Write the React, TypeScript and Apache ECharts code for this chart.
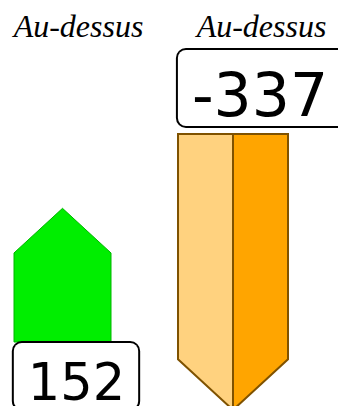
import React, { useEffect, useRef } from 'react';
import * as echarts from 'echarts';

// ---- data ----
const panelTitles = ['Au-dessus', 'Au-dessus'];
const categories = ['valeur'];
const leftValues = [152];
const rightValues = [-337];

// ---- styles / layout ----
const W = 338;
const H = 406;
const leftCfg = {
  offset: -13.5,
  halfWidth: 48.5,
  tipRatio: 0.92,
  split: false,
  fill: '#00ee00',
  light: '#00ee00',
  stroke: '#00b400',
  lineWidth: 1,
  fontSize: 51,
  padding: [14, 13, 1, 14],
  gap: 1,
  labelDx: 0,
};
const rightCfg = {
  offset: -27,
  halfWidth: 55,
  tipRatio: 0.92,
  split: true,
  fill: '#ffa500',
  light: '#ffd27f',
  stroke: '#7f5200',
  lineWidth: 2,
  fontSize: 60,
  padding: [15, 24, 1, 14],
  gap: 8,
  labelDx: 5,
};

function makeRender(cfg: any) {
  return (params: any, api: any) => {
    const c = api.value(0);
    const v = api.value(1);
    const base = api.coord([c, 0]);
    const tip = api.coord([c, v]);
    const cx = base[0] + cfg.offset;
    const hw = cfg.halfWidth;
    const tipH = hw * cfg.tipRatio;
    const by = base[1];
    const ty = tip[1];
    const sy = v >= 0 ? ty + tipH : ty - tipH;
    const children: any[] = [];
    if (cfg.split) {
      children.push({
        type: 'polygon',
        shape: { points: [[cx - hw, by], [cx, by], [cx, ty], [cx - hw, sy]] },
        style: { fill: cfg.light, stroke: cfg.stroke, lineWidth: cfg.lineWidth },
      });
      children.push({
        type: 'polygon',
        shape: { points: [[cx, by], [cx + hw, by], [cx + hw, sy], [cx, ty]] },
        style: { fill: cfg.fill, stroke: cfg.stroke, lineWidth: cfg.lineWidth },
      });
    } else {
      children.push({
        type: 'polygon',
        shape: { points: [[cx - hw, by], [cx + hw, by], [cx + hw, sy], [cx, ty], [cx - hw, sy]] },
        style: { fill: cfg.fill, stroke: cfg.stroke, lineWidth: cfg.lineWidth },
      });
    }
    children.push({
      type: 'text',
      x: base[0] + cfg.labelDx,
      y: v >= 0 ? by + cfg.gap : by - cfg.gap,
      style: {
        text: String(v),
        fill: '#000',
        font: `${cfg.fontSize}px "DejaVu Sans"`,
        fontSize: cfg.fontSize,
        fontFamily: 'DejaVu Sans',
        lineHeight: cfg.fontSize,
        align: 'center',
        verticalAlign: v >= 0 ? 'top' : 'bottom',
        backgroundColor: '#fff',
        borderColor: '#000',
        borderWidth: 2,
        borderRadius: 8,
        padding: cfg.padding,
      },
    });
    return { type: 'group', children };
  };
}

export default function App() {
  const ref = useRef<HTMLDivElement>(null);
  useEffect(() => {
    if (!ref.current) return;
    const chart = echarts.init(ref.current, undefined, { renderer: 'svg' });
    const titleStyle = {
      fill: '#000',
      font: 'italic 32px "Liberation Serif"',
      align: 'center',
      verticalAlign: 'middle',
    };
    chart.setOption({
      animation: false,
      backgroundColor: '#fff',
      grid: [
        { left: 0, width: 152, top: 201.3, height: 140.7, outerBoundsMode: 'none' },
        { left: 184, width: 152, top: 134, height: 286.6, outerBoundsMode: 'none' },
      ],
      xAxis: [
        { type: 'category', data: categories, gridIndex: 0, show: false },
        { type: 'category', data: categories, gridIndex: 1, show: false },
      ],
      yAxis: [
        { type: 'value', gridIndex: 0, min: 0, max: 160, show: false },
        { type: 'value', gridIndex: 1, min: -350, max: 0, show: false },
      ],
      graphic: [
        { type: 'text', x: 78.5, y: 26.2, style: { ...titleStyle, text: panelTitles[0] } },
        { type: 'text', x: 261.5, y: 26.2, style: { ...titleStyle, text: panelTitles[1] } },
      ],
      series: [
        {
          type: 'custom',
          xAxisIndex: 0,
          yAxisIndex: 0,
          clip: false,
          renderItem: makeRender(leftCfg),
          data: leftValues.map((v, i) => [i, v]),
        },
        {
          type: 'custom',
          xAxisIndex: 1,
          yAxisIndex: 1,
          clip: false,
          renderItem: makeRender(rightCfg),
          data: rightValues.map((v, i) => [i, v]),
        },
      ],
    });
    return () => chart.dispose();
  }, []);
  return (
    <div
      ref={ref}
      style={{ position: 'fixed', left: 0, top: 0, width: W, height: H, background: '#fff' }}
    />
  );
}
